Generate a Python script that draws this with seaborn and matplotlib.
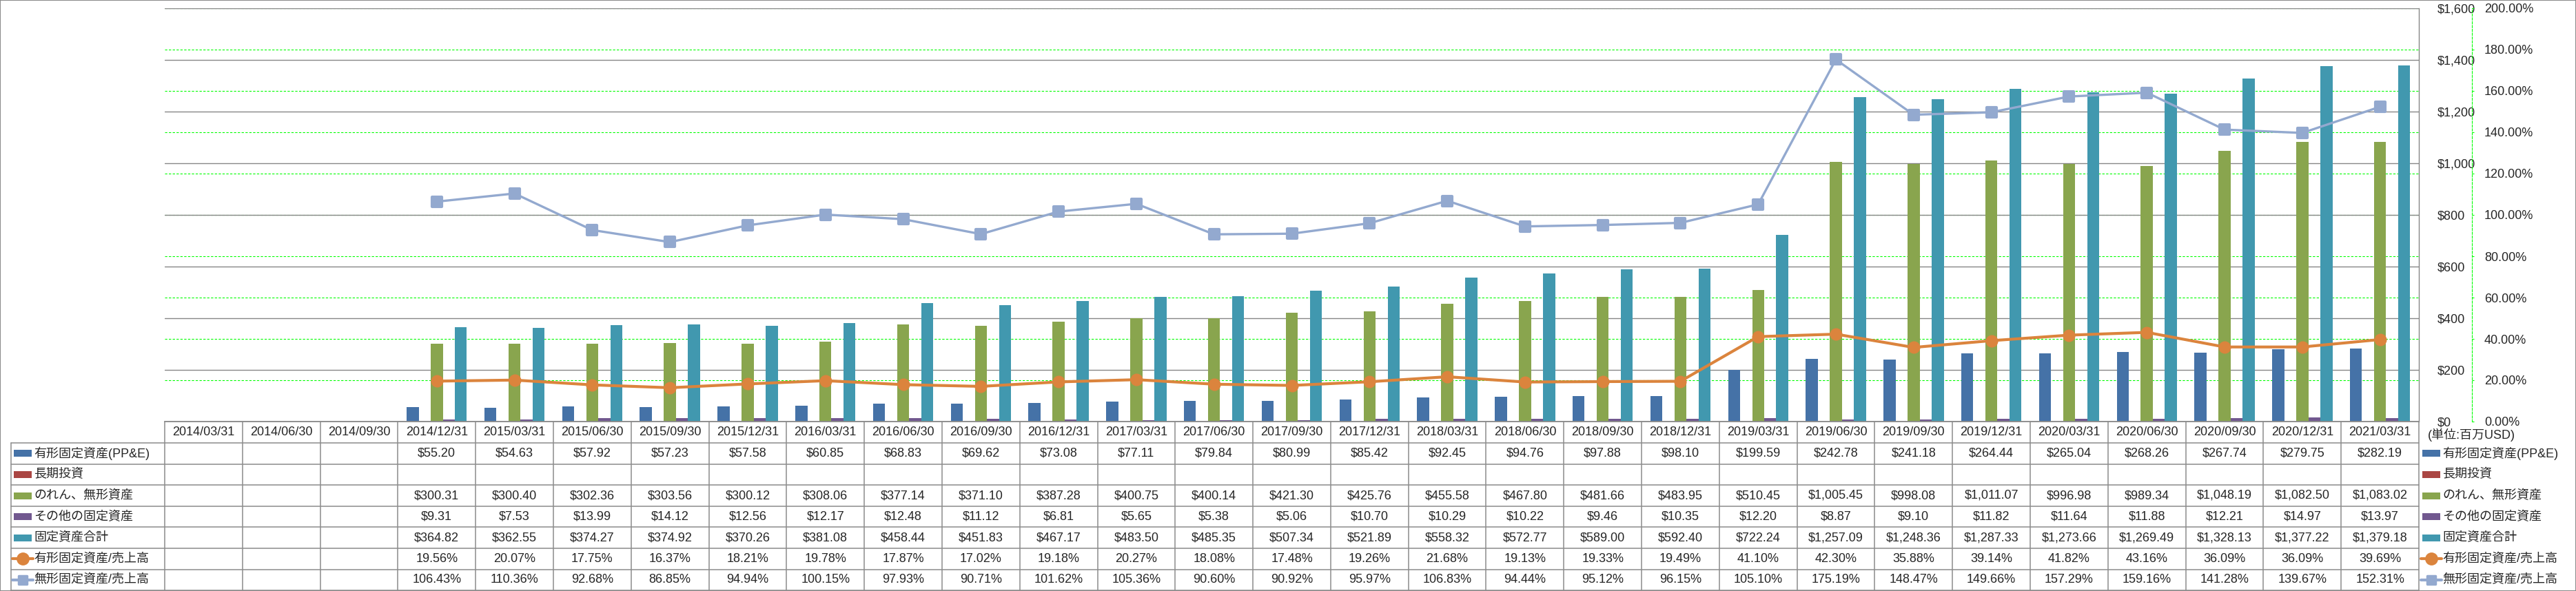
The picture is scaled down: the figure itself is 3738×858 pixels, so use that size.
import numpy as np
import pandas as pd
import matplotlib
matplotlib.use('Agg')
import matplotlib.pyplot as plt
import matplotlib.transforms as mtransforms
from matplotlib.patches import Rectangle
from matplotlib.lines import Line2D
from matplotlib.markers import MarkerStyle
from matplotlib.ticker import FuncFormatter, MultipleLocator
import seaborn as sns

nan = np.nan

# --- data (百万USD) ---
dates = ['2014/03/31', '2014/06/30', '2014/09/30', '2014/12/31',
         '2015/03/31', '2015/06/30', '2015/09/30', '2015/12/31',
         '2016/03/31', '2016/06/30', '2016/09/30', '2016/12/31',
         '2017/03/31', '2017/06/30', '2017/09/30', '2017/12/31',
         '2018/03/31', '2018/06/30', '2018/09/30', '2018/12/31',
         '2019/03/31', '2019/06/30', '2019/09/30', '2019/12/31',
         '2020/03/31', '2020/06/30', '2020/09/30', '2020/12/31',
         '2021/03/31']

ppe = [nan, nan, nan, 55.20, 54.63, 57.92, 57.23, 57.58, 60.85, 68.83, 69.62,
       73.08, 77.11, 79.84, 80.99, 85.42, 92.45, 94.76, 97.88, 98.10, 199.59,
       242.78, 241.18, 264.44, 265.04, 268.26, 267.74, 279.75, 282.19]
lt_invest = [nan] * 29
goodwill = [nan, nan, nan, 300.31, 300.40, 302.36, 303.56, 300.12, 308.06,
            377.14, 371.10, 387.28, 400.75, 400.14, 421.30, 425.76, 455.58,
            467.80, 481.66, 483.95, 510.45, 1005.45, 998.08, 1011.07, 996.98,
            989.34, 1048.19, 1082.50, 1083.02]
other = [nan, nan, nan, 9.31, 7.53, 13.99, 14.12, 12.56, 12.17, 12.48, 11.12,
         6.81, 5.65, 5.38, 5.06, 10.70, 10.29, 10.22, 9.46, 10.35, 12.20, 8.87,
         9.10, 11.82, 11.64, 11.88, 12.21, 14.97, 13.97]
total = [nan, nan, nan, 364.82, 362.55, 374.27, 374.92, 370.26, 381.08, 458.44,
         451.83, 467.17, 483.50, 485.35, 507.34, 521.89, 558.32, 572.77, 589.00,
         592.40, 722.24, 1257.09, 1248.36, 1287.33, 1273.66, 1269.49, 1328.13,
         1377.22, 1379.18]
ppe_ratio = [nan, nan, nan, 19.56, 20.07, 17.75, 16.37, 18.21, 19.78, 17.87,
             17.02, 19.18, 20.27, 18.08, 17.48, 19.26, 21.68, 19.13, 19.33,
             19.49, 41.10, 42.30, 35.88, 39.14, 41.82, 43.16, 36.09, 36.09, 39.69]
intang_ratio = [nan, nan, nan, 106.43, 110.36, 92.68, 86.85, 94.94, 100.15,
                97.93, 90.71, 101.62, 105.36, 90.60, 90.92, 95.97, 106.83, 94.44,
                95.12, 96.15, 105.10, 175.19, 148.47, 149.66, 157.29, 159.16,
                141.28, 139.67, 152.31]

bar_names = ['有形固定資産(PP&E)', '長期投資', 'のれん、無形資産', 'その他の固定資産', '固定資産合計']
line_names = ['有形固定資産/売上高', '無形固定資産/売上高']
bar_colors = ['#4572A7', '#AA4643', '#89A54E', '#71588F', '#4198AF']
line_colors = ['#DB843D', '#93A9CF']

bar_values = [ppe, lt_invest, goodwill, other, total]
line_values = [ppe_ratio, intang_ratio]

df = pd.DataFrame({
    'date': dates * len(bar_names),
    'series': np.repeat(bar_names, len(dates)),
    'value': np.concatenate(bar_values),
})

# --- style ---
sns.set_style('white')
plt.rcParams['font.family'] = ['Liberation Sans', 'Noto Sans CJK JP']
plt.rcParams['font.size'] = 13

W, H, DPI = 3738, 858, 100
fig = plt.figure(figsize=(W / DPI, H / DPI), dpi=DPI)


def fx(px):
    return px / W


def fy(py):
    return 1 - py / H


PL, PR, PT, PB = 239, 3510, 12, 612
pos = [fx(PL), fy(PB), (PR - PL) / W, (PB - PT) / H]
GRID_GREY = '#868686'
LINE_GREY = '#8C8C8C'
GREEN = '#00FF00'
DASH = (0, (3, 2))

# background axes: green dashed grid of the secondary scale
ax_bg = fig.add_axes(pos, zorder=0)
ax_bg.set_xlim(-0.5, len(dates) - 0.5)
ax_bg.set_ylim(0, 200)
ax_bg.yaxis.set_major_locator(MultipleLocator(20))
ax_bg.grid(axis='y', color=GREEN, linestyle=DASH, linewidth=0.8)
ax_bg.tick_params(left=False, bottom=False, labelleft=False, labelbottom=False)

# main axes: bars
ax = fig.add_axes(pos, zorder=1)
ax.patch.set_visible(False)
sns.barplot(data=df, x='date', y='value', hue='series', order=dates,
            hue_order=bar_names, palette=bar_colors, width=0.775,
            errorbar=None, saturation=1, linewidth=0, edgecolor='none',
            legend=False, ax=ax)

# secondary axes: ratio lines (twinx resets the primary ticks, so do it first)
ax2 = ax.twinx()
ax2.set_zorder(2)
ax2.patch.set_visible(False)

ax.set_xlim(-0.5, len(dates) - 0.5)
ax.set_ylim(0, 1600)
ax.yaxis.set_major_locator(MultipleLocator(200))
ax.yaxis.set_major_formatter(FuncFormatter(lambda v, p: f'${v:,.0f}'))
ax.yaxis.tick_right()
ax.tick_params(axis='y', left=False, labelleft=False, right=True, labelright=True,
               length=0, pad=19, labelsize=13)
ax.tick_params(axis='x', length=0, labelbottom=False)
ax.set_axisbelow(True)
ax.grid(axis='y', color=GRID_GREY, linewidth=1.0)
ax.set_xlabel('')
ax.set_ylabel('')
ax.spines['right'].set_color(GRID_GREY)
ax.spines['right'].set_linewidth(1.0)
ax.spines['bottom'].set_color(LINE_GREY)
ax.spines['bottom'].set_linewidth(1.1)

ax2.set_ylim(0, 200)
ax2.yaxis.set_major_locator(MultipleLocator(20))
ax2.yaxis.set_major_formatter(FuncFormatter(lambda v, p: f'{v:.2f}%'))
ax2.spines['right'].set_position(('axes', (3587 - PL) / (PR - PL)))
ax2.spines['right'].set_color(GREEN)
ax2.spines['right'].set_linestyle(DASH)
ax2.spines['right'].set_linewidth(0.8)
ax2.tick_params(axis='y', direction='out', length=2.5, width=0.8,
                color=GREEN, pad=10.5, labelsize=13)

xpos = np.arange(len(dates))
ax2.plot(xpos, ppe_ratio, color=line_colors[0], lw=3, marker='o', ms=12,
         mec=line_colors[0], zorder=3)
ax2.plot(xpos, intang_ratio, color=line_colors[1], lw=2.4,
         marker=MarkerStyle('s', joinstyle='round'), ms=9.5, mew=3,
         mec=line_colors[1], zorder=3)

# hide unused spines on every axes
for a in (ax_bg, ax, ax2):
    a.spines['left'].set_visible(False)
    a.spines['top'].set_visible(False)
for s in ('right', 'bottom'):
    ax_bg.spines[s].set_visible(False)
ax2.spines['bottom'].set_visible(False)

# --- data table ---
trans = mtransforms.blended_transform_factory(ax.transData, fig.transFigure)
row_edges = [612, 643] + [643 + 30.6 * (k + 1) for k in range(7)]
TL = 16


def hline(x0, x1, y):
    fig.add_artist(Line2D([fx(x0), fx(x1)], [fy(y), fy(y)], transform=fig.transFigure,
                          color=LINE_GREY, lw=1.1))


hline(PL, PR, row_edges[0])
for y in row_edges[1:]:
    hline(TL, PR, y)
fig.add_artist(Line2D([fx(TL), fx(TL)], [fy(row_edges[1]), fy(row_edges[-1])],
                      transform=fig.transFigure, color=LINE_GREY, lw=1.1))
for i in range(len(dates) + 1):
    fig.add_artist(Line2D([i - 0.5, i - 0.5], [fy(row_edges[0]), fy(row_edges[-1])],
                          transform=trans, color=LINE_GREY, lw=1.1))

hdr_mid = (row_edges[0] + row_edges[1]) / 2
for i, d in enumerate(dates):
    ax.text(i, fy(hdr_mid), d, transform=trans, ha='center', va='center',
            fontsize=13, clip_on=False)

row_names = bar_names + line_names
row_values = bar_values + line_values
row_colors = bar_colors + line_colors


def draw_key(x0, ymid, k):
    if k < len(bar_names):
        fig.add_artist(Rectangle((fx(x0), fy(ymid + 5)), 26 / W, 10 / H,
                                 transform=fig.transFigure, color=row_colors[k], lw=0))
    else:
        mk = 'o' if k == len(bar_names) else MarkerStyle('s', joinstyle='round')
        ms = 11 if k == len(bar_names) else 8
        fig.add_artist(Line2D([fx(x0 - 2), fx(x0 + 13), fx(x0 + 28)], [fy(ymid)] * 3,
                              transform=fig.transFigure, color=row_colors[k], lw=3,
                              marker=mk, ms=ms, mew=2.5, mec=row_colors[k],
                              markevery=[1]))


for k, name in enumerate(row_names):
    ymid = (row_edges[k + 1] + row_edges[k + 2]) / 2
    draw_key(20, ymid, k)
    fig.text(fx(49), fy(ymid), name, ha='left', va='center', fontsize=13)
    # legend on the right
    draw_key(3515, ymid, k)
    fig.text(fx(3544), fy(ymid), name, ha='left', va='center', fontsize=13)
    for i, v in enumerate(row_values[k]):
        if np.isnan(v):
            continue
        txt = f'{v:.2f}%' if k >= len(bar_names) else f'${v:,.2f}'
        ax.text(i, fy(ymid), txt, transform=trans, ha='center', va='center',
                fontsize=13, clip_on=False)

fig.text(fx(3523), fy(hdr_mid + 4), '(単位:百万USD)', ha='left', va='center', fontsize=13)

# outer frame
fig.add_artist(Rectangle((0, 0), 1, 1, transform=fig.transFigure, fill=False,
                         edgecolor=LINE_GREY, lw=1.5))

fig.savefig('out.png', dpi=DPI)
